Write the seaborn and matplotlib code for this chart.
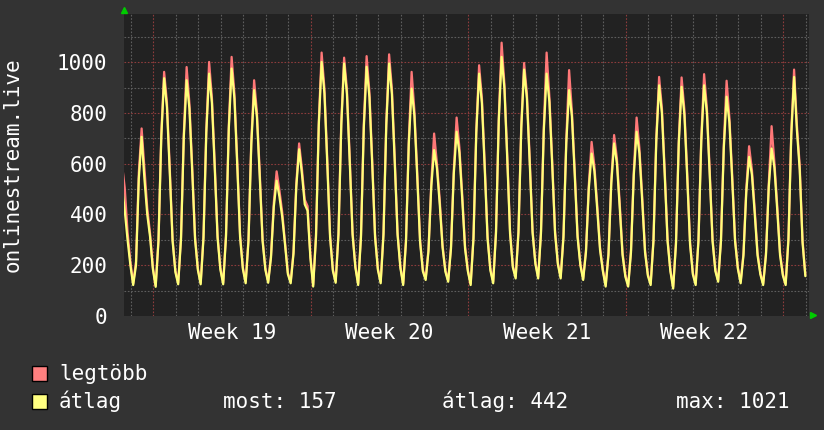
import pandas as pd
import matplotlib
matplotlib.use('Agg')
import matplotlib.pyplot as plt
from matplotlib.patches import Rectangle
import seaborn as sns

# 3-hourly samples, first one on 2023-05-06 14:30, one day per line
legtobb = [600, 505, 330, 215,
           128, 215, 565, 739, 580, 425, 325, 192,
           120, 303, 720, 962, 842, 585, 306, 179,
           131, 310, 718, 981, 836, 585, 312, 187,
           131, 316, 737, 1001, 859, 600, 318, 189,
           131, 320, 751, 1021, 876, 611, 322, 191,
           135, 304, 691, 929, 803, 566, 306, 188,
           137, 238, 447, 570, 495, 408, 290, 171,
           135, 253, 523, 680, 580, 458, 433, 238,
           122, 319, 767, 1038, 897, 621, 321, 184,
           137, 329, 767, 1018, 894, 624, 331, 197,
           128, 319, 755, 1024, 882, 613, 321, 188,
           135, 328, 767, 1031, 894, 623, 330, 196,
           128, 300, 693, 962, 808, 566, 302, 182,
           148, 263, 525, 719, 602, 458, 280, 181,
           141, 273, 575, 782, 663, 478, 275, 182,
           128, 313, 736, 988, 858, 598, 315, 186,
           135, 333, 783, 1077, 914, 636, 335, 197,
           154, 337, 755, 997, 876, 619, 339, 212,
           154, 334, 743, 1038, 862, 610, 336, 210,
           154, 319, 696, 969, 806, 574, 321, 206,
           148, 260, 515, 686, 590, 438, 270, 183,
           122, 248, 536, 713, 621, 444, 250, 161,
           122, 258, 569, 782, 661, 470, 260, 165,
           128, 303, 703, 942, 819, 573, 305, 183,
           114, 291, 694, 940, 812, 563, 293, 170,
           128, 303, 703, 953, 819, 573, 305, 183,
           141, 303, 674, 927, 782, 554, 305, 192,
           135, 247, 502, 669, 577, 421, 249, 170,
           128, 248, 523, 748, 605, 436, 250, 166,
           128, 310, 726, 971, 752, 593, 300, 163]

atlag = [520, 415, 300, 200,
         122, 200, 540, 706, 540, 400, 312, 185,
         115, 296, 707, 937, 822, 567, 296, 173,
         125, 302, 704, 929, 816, 567, 302, 181,
         125, 308, 723, 955, 839, 582, 308, 183,
         125, 312, 737, 975, 856, 593, 312, 185,
         129, 296, 677, 890, 783, 548, 296, 182,
         131, 230, 430, 533, 470, 390, 280, 165,
         129, 245, 509, 657, 560, 440, 415, 230,
         116, 311, 753, 1001, 877, 603, 311, 178,
         131, 321, 753, 995, 874, 606, 321, 191,
         122, 311, 741, 982, 862, 595, 311, 182,
         129, 320, 753, 995, 874, 605, 320, 190,
         122, 292, 679, 896, 788, 548, 292, 176,
         142, 255, 511, 654, 582, 440, 270, 175,
         135, 265, 561, 726, 643, 460, 265, 176,
         122, 305, 722, 955, 838, 580, 305, 180,
         129, 325, 770, 1021, 896, 620, 325, 191,
         148, 329, 741, 971, 856, 601, 329, 206,
         148, 326, 729, 955, 842, 592, 326, 204,
         148, 311, 682, 890, 786, 556, 311, 200,
         142, 252, 501, 640, 570, 420, 260, 177,
         116, 240, 522, 680, 601, 426, 240, 155,
         116, 250, 555, 726, 641, 452, 250, 159,
         122, 295, 689, 909, 799, 555, 295, 177,
         108, 283, 680, 903, 792, 545, 283, 164,
         122, 295, 689, 909, 799, 555, 295, 177,
         135, 295, 660, 864, 762, 536, 295, 186,
         129, 239, 488, 627, 557, 403, 239, 164,
         122, 240, 509, 660, 585, 418, 240, 160,
         122, 302, 712, 942, 732, 575, 290, 157]

het_cimkek = ['Week 19', 'Week 20', 'Week 21', 'Week 22']
het_kozep = ['2023-05-11 12:00', '2023-05-18 12:00', '2023-05-25 12:00', '2023-06-01 12:00']
osszesito = ['most: 157', 'átlag: 442', 'max: 1021']

ido = pd.date_range('2023-05-06 14:30', periods=len(atlag), freq='3h')
df = pd.DataFrame({'ido': ido, 'legtöbb': legtobb, 'átlag': atlag})

sns.set_style('dark')
plt.rcParams['font.family'] = ['DejaVu Sans Mono']

fig = plt.figure(figsize=(8.24, 4.30), dpi=100, facecolor='#333333')
ax = fig.add_axes([124 / 824, 114 / 430, 685 / 824, 302 / 430])
ax.set_facecolor('#222222')
for s in ax.spines.values():
    s.set_visible(False)

# grid: gray every day / 100, red every week / 200
for d in pd.date_range('2023-05-07', '2023-06-06', freq='D'):
    c = '#8c3c3c' if d.weekday() == 0 else '#5e5e5e'
    ax.axvline(d, color=c, ls=(0, (1.5, 1.5)), lw=0.8, zorder=1)
for v in range(100, 1200, 100):
    c = '#8c3c3c' if v % 200 == 0 else '#5e5e5e'
    ax.axhline(v, color=c, ls=(0, (1.5, 1.5)), lw=0.8, zorder=1)

sns.lineplot(data=df, x='ido', y='legtöbb', color='#ff7878', lw=1.6, ax=ax, zorder=3)
sns.lineplot(data=df, x='ido', y='átlag', color='#ffff78', lw=1.6, ax=ax, zorder=4)

ax.set_xlim(pd.Timestamp('2023-05-06 16:42'), pd.Timestamp('2023-06-06 03:24'))
ax.set_ylim(0, 1190)
ax.set_yticks(range(0, 1001, 200))
ax.set_xticks(pd.to_datetime(het_kozep))
ax.set_xticklabels(het_cimkek)
ax.tick_params(axis='both', colors='white', labelsize=15, length=0)
ax.tick_params(axis='y', pad=12)
ax.tick_params(axis='x', pad=5)
ax.set_xlabel('')
ax.set_ylabel('onlinestream.live', color='white', fontsize=15)
ax.yaxis.set_label_coords(-0.148, 0.5)

# green arrows at axis ends
ax.plot([0], [1.013], marker='^', color='#00cc00', ms=4, transform=ax.transAxes, clip_on=False)
ax.plot([1.006], [0.003], marker='>', color='#00cc00', ms=4, transform=ax.transAxes, clip_on=False)

# legend block
for y0, c, nev in [(366, '#ff8080', 'legtöbb'), (394, '#ffff80', 'átlag')]:
    fig.add_artist(Rectangle((32 / 824, 1 - (y0 + 15) / 430), 15 / 824, 15 / 430,
                             transform=fig.transFigure, fc=c, ec='black', lw=1))
    fig.text(59 / 824, 1 - (y0 + 14) / 430, nev, color='white', fontsize=15, va='baseline')
for x0, t in zip([223, 442, 676], osszesito):
    fig.text(x0 / 824, 1 - 408 / 430, t, color='white', fontsize=15, va='baseline')

fig.savefig('out.png', dpi=100, facecolor=fig.get_facecolor())
